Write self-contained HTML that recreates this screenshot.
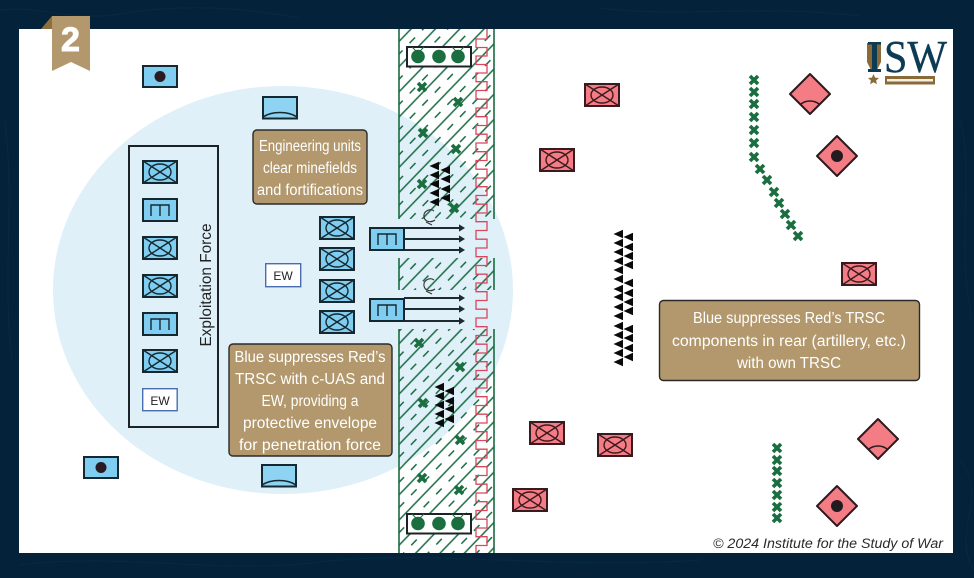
<!DOCTYPE html>
<html><head><meta charset="utf-8"><style>
html,body{margin:0;padding:0;background:#04233a}
svg{display:block}
text{font-family:"Liberation Sans",sans-serif}
</style></head><body>
<svg width="974" height="578" viewBox="0 0 974 578" xmlns="http://www.w3.org/2000/svg">
<defs>
<pattern id="h" patternUnits="userSpaceOnUse" width="18" height="17.5" patternTransform="translate(399 40) rotate(-46)">
<line x1="0" y1="1" x2="18" y2="1" stroke="#1a6b42" stroke-width="1.5"/>
<line x1="5" y1="9.8" x2="13" y2="9.8" stroke="#1a6b42" stroke-width="1.5"/>
</pattern>
<g id="bx"><rect x="1" y="1" width="34" height="22" fill="#7fcdf0" stroke="#16282f" stroke-width="2"/><path d="M1 1L35 23M35 1L1 23" stroke="#16282f" stroke-width="1.4"/><ellipse cx="18" cy="12" rx="11" ry="8" fill="none" stroke="#16282f" stroke-width="1.4"/></g>
<g id="be"><rect x="1" y="1" width="34" height="22" fill="#7fcdf0" stroke="#16282f" stroke-width="2"/><path d="M9 18V7H27V18M18 7V18" fill="none" stroke="#16282f" stroke-width="1.4"/></g>
<g id="bd"><rect x="1" y="1" width="34" height="21" fill="#7fcdf0" stroke="#16282f" stroke-width="2"/><circle cx="18" cy="11.5" r="5.5" fill="#2a1a22"/></g>
<g id="bh"><rect x="1" y="1" width="34" height="21.5" fill="#8fd3f2" stroke="#16282f" stroke-width="2"/><path d="M1 21C10 15 26 15 35 21" fill="none" stroke="#16282f" stroke-width="1.5"/></g>
<g id="rx"><rect x="1" y="1" width="34" height="22" fill="#f37c85" stroke="#3a1a1e" stroke-width="2"/><path d="M1 1L35 23M35 1L1 23" stroke="#3a1a1e" stroke-width="1.4"/><ellipse cx="18" cy="12" rx="11" ry="8" fill="none" stroke="#3a1a1e" stroke-width="1.4"/></g>
<g id="da"><path d="M0-20L20 0L0 20L-20 0Z" fill="#f37c85" stroke="#2e1a1e" stroke-width="2" stroke-linejoin="round"/><path d="M-9 10C-4 6 4 6 9 10" fill="none" stroke="#2e1a1e" stroke-width="1.5"/></g>
<g id="dd"><path d="M0-20L20 0L0 20L-20 0Z" fill="#f37c85" stroke="#2e1a1e" stroke-width="2" stroke-linejoin="round"/><circle r="6" fill="#221c20"/></g>
<path id="x" d="M-4-4L4 4M4-4L-4 4" stroke="#1a6e40" stroke-width="3.6"/>
<path id="t" d="M-5.5 0L4-4.2V4.2Z" fill="#0a0a0a"/>
<g id="ar"><line x1="0" y1="0" x2="56" y2="0" stroke="#1d2a30" stroke-width="1.9"/><path d="M55-3.6L61 0L55 3.6Z" fill="#1d2a30"/></g>
<g id="cc"><path d="M5-5C1-8-6-5-5 1C-4 6 2 7 6 4M-3 6L3 9" fill="none" stroke="#333" stroke-width="1.1"/></g>
<g id="db"><rect x="1" y="1" width="64" height="19.5" fill="#fff" stroke="#1d2226" stroke-width="2"/><circle cx="12" cy="10.5" r="6.8" fill="#1a6e40"/><circle cx="33" cy="10.5" r="6.8" fill="#1a6e40"/><circle cx="52" cy="10.5" r="6.8" fill="#1a6e40"/><path d="M6 1L10 5M18 1L14 5M46 1L50 5M58 1L54 5" stroke="#1a6e40" stroke-width="1"/></g>
</defs>

<rect width="974" height="578" fill="#04233a"/>
<g fill="none" stroke="#0e3a52" stroke-width="1" opacity=".3">
<path d="M0 10C40 5 70 22 120 14S220 4 300 18M960 120C975 180 955 240 972 320M960 460C990 500 950 530 974 570M20 565C120 552 220 575 320 562S560 570 700 560"/>
<path d="M5 120C15 200 2 280 12 360M600 8C680 18 760 4 860 16"/>
</g>
<path d="M41 29L52 16V29Z" fill="#8e6f3c"/>
<rect x="19" y="29" width="934" height="524" fill="#fff"/>
<ellipse cx="283" cy="290" rx="230" ry="204" fill="#dff0f9"/>

<!-- minefield -->
<g>
<rect x="399" y="29" width="95" height="190" fill="url(#h)"/>
<rect x="399" y="258" width="95" height="32" fill="url(#h)"/>
<rect x="399" y="329" width="95" height="224" fill="url(#h)"/>
<path d="M399 29V219M494 29V219M399 258V290M494 258V290M399 329V553M494 329V553" stroke="#1a6b42" stroke-width="1.6" fill="none"/>
</g>
<path d="M487 29V39H476V47.5H487V56H476V64.5H487V73H476V81.7H487V90.5H476V99.2H487V108H476V116.7H487V125.5H476V134.2H487V143H476V151.7H487V160.5H476V169.2H487V178H476V186.7H487V195.5H476V204.2H487V213H476V221.7H487V230.5H476V239.2H487V248H476V256.7H487V265.5H476V274.2H487V283H476V291.7H487V300.5H476V309.2H487V318H476V326.7H487V335.5H476V344.2H487V353H476V361.7H487V370.5H476V379.2H487V388H476V396.7H487V405.5H476V414.2H487V423H476V431.7H487V440.5H476V449.2H487V458H476V466.7H487V475.5H476V484.2H487V493H476V501.7H487V510.5H476V519.2H487V528H476V536.7H487V545.5H476V553" fill="none" stroke="#d8485a" stroke-width="1.3"/>

<use href="#db" x="406" y="46"/>
<use href="#db" x="406" y="513"/>

<!-- minefield x -->
<use href="#x" x="422" y="87"/><use href="#x" x="458" y="102"/><use href="#x" x="423" y="133"/><use href="#x" x="456" y="149"/><use href="#x" x="422" y="184"/><use href="#x" x="454" y="208"/>
<use href="#x" x="419" y="343"/><use href="#x" x="460" y="367"/><use href="#x" x="423" y="403"/><use href="#x" x="460" y="440"/><use href="#x" x="422" y="478"/><use href="#x" x="459" y="490"/>

<!-- triangles in minefield -->
<use href="#t" x="435" y="166"/><use href="#t" x="435" y="175"/><use href="#t" x="435" y="184"/><use href="#t" x="435" y="193"/><use href="#t" x="435" y="202"/>
<use href="#t" x="446" y="170"/><use href="#t" x="446" y="179"/><use href="#t" x="446" y="189"/><use href="#t" x="446" y="198"/>
<use href="#t" x="440" y="387"/><use href="#t" x="440" y="396"/><use href="#t" x="440" y="405"/><use href="#t" x="440" y="414"/><use href="#t" x="440" y="423"/>
<use href="#t" x="450" y="391"/><use href="#t" x="450" y="401"/><use href="#t" x="450" y="409"/><use href="#t" x="450" y="419"/>

<use href="#cc" x="429" y="216"/>
<use href="#cc" x="429" y="285"/>

<!-- exploitation -->
<rect x="129" y="146" width="89" height="281" fill="none" stroke="#1d2226" stroke-width="2"/>
<use href="#bx" x="142" y="160"/><use href="#be" x="142" y="198"/><use href="#bx" x="142" y="236"/><use href="#bx" x="142" y="274"/><use href="#be" x="142" y="312"/><use href="#bx" x="142" y="349"/>
<rect x="142.7" y="388.7" width="34.5" height="22" fill="#fff" stroke="#4a6db0" stroke-width="1.4"/>
<text x="160" y="405" font-size="12" fill="#222" text-anchor="middle">EW</text>
<text transform="translate(211 285) rotate(-90)" font-size="16" fill="#222" text-anchor="middle" textLength="123" lengthAdjust="spacingAndGlyphs">Exploitation Force</text>

<use href="#bx" x="319" y="216"/><use href="#bx" x="319" y="247"/><use href="#bx" x="319" y="279"/><use href="#bx" x="319" y="310"/>
<rect x="265.7" y="263.7" width="35" height="23" fill="#fff" stroke="#4a6db0" stroke-width="1.4"/>
<text x="283" y="280" font-size="12" fill="#222" text-anchor="middle">EW</text>

<use href="#ar" x="404" y="228"/><use href="#ar" x="404" y="239"/><use href="#ar" x="404" y="250"/>
<use href="#ar" x="404" y="298"/><use href="#ar" x="404" y="309"/><use href="#ar" x="404" y="321"/>
<use href="#be" x="369" y="227"/><use href="#be" x="369" y="298"/>

<use href="#bd" x="142" y="65"/><use href="#bd" x="83" y="456"/>
<use href="#bh" x="262" y="96"/><use href="#bh" x="261" y="464"/>

<!-- tan boxes -->
<g fill="#b2986c" stroke="#2a2a2a" stroke-width="1.4">
<rect x="253" y="130" width="114" height="74" rx="4"/>
<rect x="229" y="344" width="163" height="112" rx="4"/>
<rect x="659.5" y="300.5" width="260" height="80" rx="4"/>
</g>
<g fill="#fff" font-size="15.5" text-anchor="middle">
<text x="310" y="151" textLength="102" lengthAdjust="spacingAndGlyphs">Engineering units</text>
<text x="310" y="173" textLength="94" lengthAdjust="spacingAndGlyphs">clear minefields</text>
<text x="310" y="195" textLength="106" lengthAdjust="spacingAndGlyphs">and fortifications</text>
<text x="310" y="362" textLength="151" lengthAdjust="spacingAndGlyphs">Blue suppresses Red’s</text>
<text x="310" y="384" textLength="150" lengthAdjust="spacingAndGlyphs">TRSC with c-UAS and</text>
<text x="310" y="406" textLength="97" lengthAdjust="spacingAndGlyphs">EW, providing a</text>
<text x="310" y="428" textLength="134" lengthAdjust="spacingAndGlyphs">protective envelope</text>
<text x="310" y="450" textLength="142" lengthAdjust="spacingAndGlyphs">for penetration force</text>
<text x="789" y="323" textLength="192" lengthAdjust="spacingAndGlyphs">Blue suppresses Red’s TRSC</text>
<text x="789" y="346" textLength="234" lengthAdjust="spacingAndGlyphs">components in rear (artillery, etc.)</text>
<text x="789" y="368" textLength="104" lengthAdjust="spacingAndGlyphs">with own TRSC</text>
</g>

<!-- red -->
<use href="#rx" x="584" y="83"/><use href="#rx" x="539" y="148"/><use href="#rx" x="841" y="262"/><use href="#rx" x="529" y="421"/><use href="#rx" x="597" y="433"/><use href="#rx" x="512" y="488"/>
<use href="#da" x="810" y="94"/><use href="#dd" x="837" y="156"/><use href="#da" x="878" y="439"/><use href="#dd" x="837" y="506"/>

<!-- green trails -->
<use href="#x" x="754" y="80"/><use href="#x" x="754" y="92"/><use href="#x" x="754" y="104"/><use href="#x" x="754" y="117"/><use href="#x" x="754" y="130"/><use href="#x" x="754" y="143"/><use href="#x" x="754" y="157"/>
<use href="#x" x="760" y="169"/><use href="#x" x="767" y="180"/><use href="#x" x="774" y="192"/><use href="#x" x="779" y="203"/><use href="#x" x="785" y="214"/><use href="#x" x="791" y="225"/><use href="#x" x="798" y="236"/>
<use href="#x" x="777" y="448"/><use href="#x" x="777" y="460"/><use href="#x" x="777" y="471"/><use href="#x" x="777" y="483"/><use href="#x" x="777" y="495"/><use href="#x" x="777" y="507"/><use href="#x" x="777" y="518"/>

<!-- big triangles -->
<use href="#t" x="619" y="234"/><use href="#t" x="619" y="243"/><use href="#t" x="619" y="252"/><use href="#t" x="619" y="261"/><use href="#t" x="619" y="270"/>
<use href="#t" x="619" y="279"/><use href="#t" x="619" y="289"/><use href="#t" x="619" y="297"/><use href="#t" x="619" y="307"/><use href="#t" x="619" y="316"/>
<use href="#t" x="619" y="326"/><use href="#t" x="619" y="335"/><use href="#t" x="619" y="344"/><use href="#t" x="619" y="353"/><use href="#t" x="619" y="362"/>
<use href="#t" x="629" y="237"/><use href="#t" x="629" y="247"/><use href="#t" x="629" y="256"/><use href="#t" x="629" y="265"/>
<use href="#t" x="629" y="283"/><use href="#t" x="629" y="293"/><use href="#t" x="629" y="302"/><use href="#t" x="629" y="311"/>
<use href="#t" x="629" y="329"/><use href="#t" x="629" y="338"/><use href="#t" x="629" y="348"/><use href="#t" x="629" y="357"/>

<!-- ribbon -->
<path d="M52 16H90V71L71 62L52 71Z" fill="#b2986c"/>
<text x="70.5" y="51" font-size="34" font-weight="bold" fill="#fff" stroke="#fff" stroke-width="1" text-anchor="middle">2</text>

<!-- logo -->
<path d="M867 43H881V62L877 70H871L867 62Z" fill="#8a6a38"/>
<path d="M868 42H881V44.5H877V69H881V72H868V69H872V44.5H868Z" fill="#0d3b54"/>
<path d="M873.5 74L875.1 77.6L879 78L876.1 80.5L876.9 84.3L873.5 82.3L870.1 84.3L870.9 80.5L868 78L871.9 77.6Z" fill="#8a6a38"/>
<text x="884" y="72" font-size="45" fill="#0d3b54" stroke="#0d3b54" stroke-width=".4" textLength="63" lengthAdjust="spacingAndGlyphs" style="font-family:'Liberation Serif',serif">SW</text>
<rect x="885" y="76" width="50" height="8.5" fill="#8a6a38"/>
<rect x="887" y="79" width="46" height="2.5" fill="#f4efe3"/>

<text x="943" y="548" font-size="13.5" font-style="italic" fill="#2a2a2a" text-anchor="end" textLength="230" lengthAdjust="spacingAndGlyphs">© 2024 Institute for the Study of War</text>
</svg>
</body></html>
